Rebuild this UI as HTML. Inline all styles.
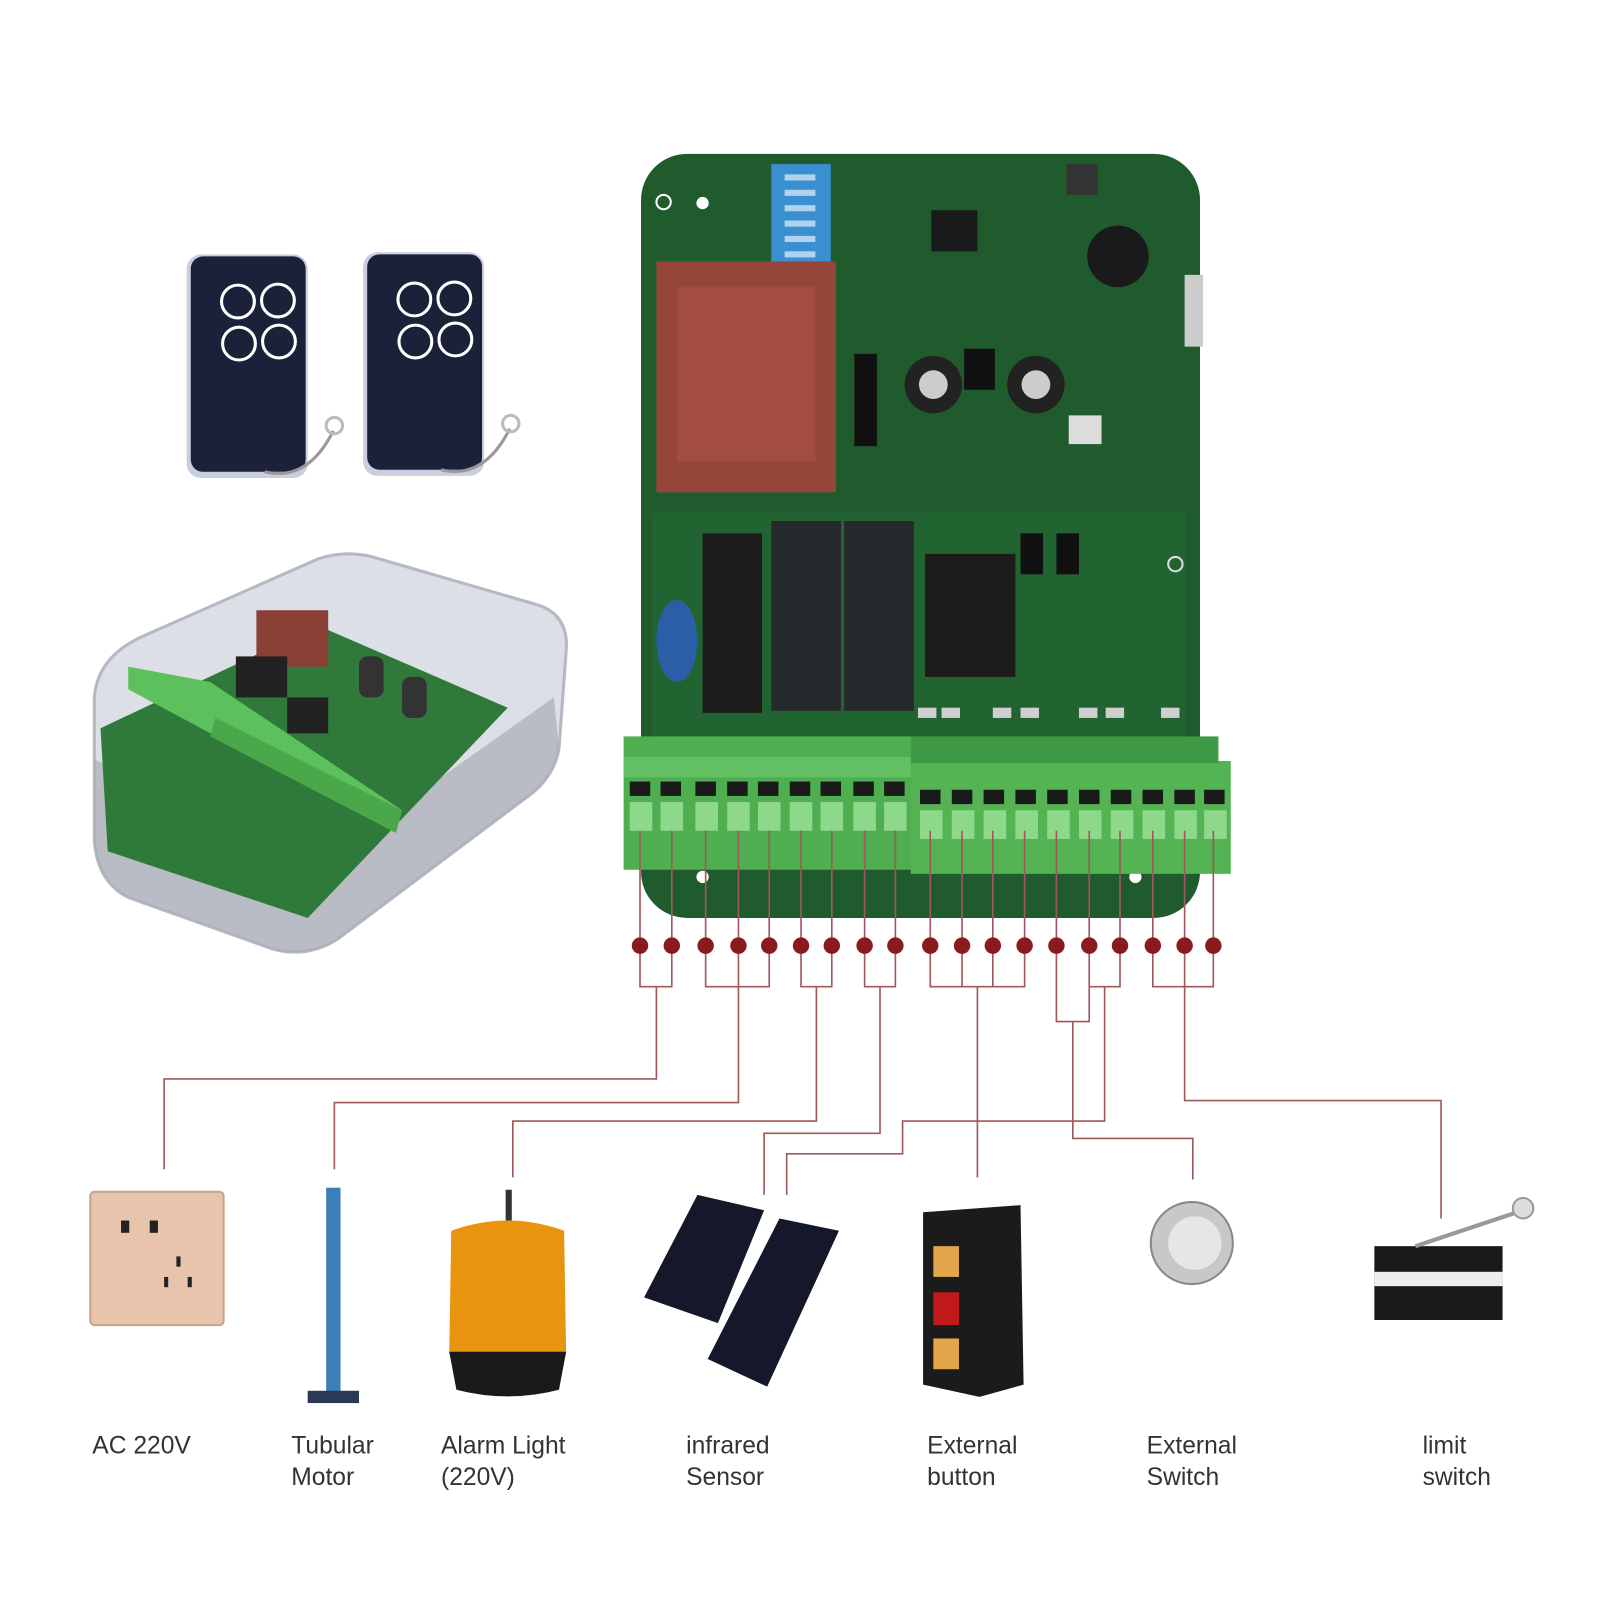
<!DOCTYPE html>
<html><head><meta charset="utf-8"><style>
html,body{margin:0;padding:0;background:#fff;}
svg{display:block}
text{font-family:"Liberation Sans",sans-serif;fill:#333;font-size:24px;}
</style></head><body>
<svg width="1600" height="1600" viewBox="0 0 1560 1560" xmlns="http://www.w3.org/2000/svg">
<rect width="1560" height="1560" fill="#fff"/>
<!-- remotes -->
<g>
<rect x="182" y="248" width="118" height="218" rx="14" fill="#c9cfe0"/>
<rect x="186" y="250" width="112" height="210" rx="12" fill="#1b2138"/>
<circle cx="232" cy="294" r="16" fill="none" stroke="#fff" stroke-width="3"/><circle cx="271" cy="293" r="16" fill="none" stroke="#fff" stroke-width="3"/>
<circle cx="233" cy="335" r="16" fill="none" stroke="#fff" stroke-width="3"/><circle cx="272" cy="333" r="16" fill="none" stroke="#fff" stroke-width="3"/>
<path d="M258 460 Q300 470 325 420" stroke="#999" stroke-width="3" fill="none"/><circle cx="326" cy="415" r="8" fill="none" stroke="#bbb" stroke-width="3"/>
<rect x="354" y="246" width="118" height="218" rx="14" fill="#c9cfe0"/>
<rect x="358" y="248" width="112" height="210" rx="12" fill="#1b2138"/>
<circle cx="404" cy="292" r="16" fill="none" stroke="#fff" stroke-width="3"/><circle cx="443" cy="291" r="16" fill="none" stroke="#fff" stroke-width="3"/>
<circle cx="405" cy="333" r="16" fill="none" stroke="#fff" stroke-width="3"/><circle cx="444" cy="331" r="16" fill="none" stroke="#fff" stroke-width="3"/>
<path d="M430 458 Q472 468 497 418" stroke="#999" stroke-width="3" fill="none"/><circle cx="498" cy="413" r="8" fill="none" stroke="#bbb" stroke-width="3"/>
</g>
<!-- enclosure -->
<g>
<path d="M92 680 Q95 640 140 620 L310 545 Q340 535 370 545 L525 590 Q555 600 552 635 L545 730 Q540 760 510 780 L330 915 Q300 935 265 925 L125 875 Q95 860 92 820 Z" fill="#dcdfe5" stroke="#b5b9c3" stroke-width="3"/>
<path d="M92 740 L300 850 L540 680 L545 730 Q540 760 510 780 L330 915 Q300 935 265 925 L125 875 Q95 860 92 820 Z" fill="#a9adb6" opacity=".7"/>
<path d="M98 710 L310 610 L495 690 L300 895 L105 830 Z" fill="#2f7a3a"/>
<rect x="250" y="595" width="70" height="55" fill="#8a4034"/>
<path d="M125 650 L205 665 L392 790 L386 812 L125 672 Z" fill="#5cc05c"/>
<path d="M210 700 L392 790 L386 812 L205 718 Z" fill="#4aa84a"/>
<rect x="350" y="640" width="24" height="40" rx="8" fill="#333"/><rect x="392" y="660" width="24" height="40" rx="8" fill="#333"/>
<rect x="230" y="640" width="50" height="40" fill="#222"/><rect x="280" y="680" width="40" height="35" fill="#222"/>
</g>
<!-- PCB -->
<rect x="625" y="150" width="545" height="745" rx="45" fill="#1f5b2d"/>
<rect x="636" y="500" width="520" height="220" fill="#246a33" opacity=".6"/>
<rect x="752" y="160" width="58" height="98" fill="#3a8fd0"/>
<g fill="#fff" opacity=".6"><rect x="765" y="170" width="30" height="6"/><rect x="765" y="185" width="30" height="6"/><rect x="765" y="200" width="30" height="6"/><rect x="765" y="215" width="30" height="6"/><rect x="765" y="230" width="30" height="6"/><rect x="765" y="245" width="30" height="6"/></g>
<rect x="640" y="255" width="175" height="225" fill="#96453a"/>
<rect x="660" y="280" width="135" height="170" fill="#a24d40"/>
<rect x="908" y="205" width="45" height="40" fill="#1a1a1a"/>
<rect x="1040" y="160" width="30" height="30" fill="#333"/>
<circle cx="1090" cy="250" r="30" fill="#1a1a1a"/>
<circle cx="910" cy="375" r="28" fill="#222"/><circle cx="910" cy="375" r="14" fill="#ccc"/>
<circle cx="1010" cy="375" r="28" fill="#222"/><circle cx="1010" cy="375" r="14" fill="#ccc"/>
<rect x="833" y="345" width="22" height="90" fill="#111"/>
<rect x="940" y="340" width="30" height="40" fill="#111"/>
<rect x="1042" y="405" width="32" height="28" fill="#ddd"/>
<rect x="1155" y="268" width="18" height="70" fill="#ccc"/>
<rect x="685" y="520" width="58" height="175" fill="#1d1d1d"/>
<rect x="752" y="508" width="68" height="185" fill="#262a2c"/>
<rect x="823" y="508" width="68" height="185" fill="#262a2c"/>
<rect x="902" y="540" width="88" height="120" fill="#1c1c1c"/>
<rect x="995" y="520" width="22" height="40" fill="#111"/><rect x="1030" y="520" width="22" height="40" fill="#111"/>
<ellipse cx="660" cy="625" rx="20" ry="40" fill="#2a5fa8"/>
<g fill="#fff"><circle cx="647" cy="197" r="7" fill="none" stroke="#fff" stroke-width="2"/><circle cx="685" cy="198" r="6"/><circle cx="1146" cy="550" r="7" fill="none" stroke="#ddd" stroke-width="2"/><circle cx="1107" cy="855" r="6"/><circle cx="685" cy="855" r="6"/></g>
<g fill="#cfcfcf"><rect x="895" y="690" width="18" height="10"/><rect x="918" y="690" width="18" height="10"/><rect x="968" y="690" width="18" height="10"/><rect x="995" y="690" width="18" height="10"/><rect x="1052" y="690" width="18" height="10"/><rect x="1078" y="690" width="18" height="10"/><rect x="1132" y="690" width="18" height="10"/></g>
<!-- terminal blocks -->
<rect x="608" y="718" width="282" height="130" fill="#4fae4f"/>
<rect x="608" y="738" width="282" height="20" fill="#62c062"/>
<rect x="888" y="742" width="312" height="110" fill="#54b454"/>
<rect x="888" y="718" width="300" height="26" fill="#3f9a45"/>
<g fill="#1a1a1a">
<rect x="614" y="762" width="20" height="14"/><rect x="644" y="762" width="20" height="14"/><rect x="678" y="762" width="20" height="14"/><rect x="709" y="762" width="20" height="14"/><rect x="739" y="762" width="20" height="14"/><rect x="770" y="762" width="20" height="14"/><rect x="800" y="762" width="20" height="14"/><rect x="832" y="762" width="20" height="14"/><rect x="862" y="762" width="20" height="14"/>
<rect x="897" y="770" width="20" height="14"/><rect x="928" y="770" width="20" height="14"/><rect x="959" y="770" width="20" height="14"/><rect x="990" y="770" width="20" height="14"/><rect x="1021" y="770" width="20" height="14"/><rect x="1052" y="770" width="20" height="14"/><rect x="1083" y="770" width="20" height="14"/><rect x="1114" y="770" width="20" height="14"/><rect x="1145" y="770" width="20" height="14"/><rect x="1174" y="770" width="20" height="14"/>
</g>
<g fill="#8ed88a">
<rect x="614" y="782" width="22" height="28"/><rect x="644" y="782" width="22" height="28"/><rect x="678" y="782" width="22" height="28"/><rect x="709" y="782" width="22" height="28"/><rect x="739" y="782" width="22" height="28"/><rect x="770" y="782" width="22" height="28"/><rect x="800" y="782" width="22" height="28"/><rect x="832" y="782" width="22" height="28"/><rect x="862" y="782" width="22" height="28"/>
<rect x="897" y="790" width="22" height="28"/><rect x="928" y="790" width="22" height="28"/><rect x="959" y="790" width="22" height="28"/><rect x="990" y="790" width="22" height="28"/><rect x="1021" y="790" width="22" height="28"/><rect x="1052" y="790" width="22" height="28"/><rect x="1083" y="790" width="22" height="28"/><rect x="1114" y="790" width="22" height="28"/><rect x="1145" y="790" width="22" height="28"/><rect x="1174" y="790" width="22" height="28"/>
</g>
<!-- wires -->
<g stroke="#a0585a" stroke-width="1.6" fill="none">
<path d="M624 810V962H655V810M640 962V1052H160V1140"/>
<path d="M688 810V962H750V810M720 810V1075H326V1140"/>
<path d="M781 810V962H811V810M796 962V1093H500V1148"/>
<path d="M843 810V962H873V810M858 962V1105H745V1165"/>
<path d="M907 810V962H999V810M938 810V962M968 810V962M953 962V1148"/>
<path d="M1030 810V996H1062V810M1046 996V1110H1163V1150"/>
<path d="M1062 962H1092V810M1077 962V1093H880V1125H767V1165"/>
<path d="M1124 810V962H1183V810M1155 810V1073H1405V1188"/>
</g>
<g fill="#8b1a1f">
<circle cx="624" cy="922" r="8"/><circle cx="655" cy="922" r="8"/><circle cx="688" cy="922" r="8"/><circle cx="720" cy="922" r="8"/><circle cx="750" cy="922" r="8"/><circle cx="781" cy="922" r="8"/><circle cx="811" cy="922" r="8"/><circle cx="843" cy="922" r="8"/><circle cx="873" cy="922" r="8"/><circle cx="907" cy="922" r="8"/><circle cx="938" cy="922" r="8"/><circle cx="968" cy="922" r="8"/><circle cx="999" cy="922" r="8"/><circle cx="1030" cy="922" r="8"/><circle cx="1062" cy="922" r="8"/><circle cx="1092" cy="922" r="8"/><circle cx="1124" cy="922" r="8"/><circle cx="1155" cy="922" r="8"/><circle cx="1183" cy="922" r="8"/>
</g>
<!-- devices -->
<rect x="88" y="1162" width="130" height="130" rx="4" fill="#e8c4ac" stroke="#c9a28a" stroke-width="2"/>
<rect x="118" y="1190" width="8" height="12" fill="#222"/><rect x="146" y="1190" width="8" height="12" fill="#222"/>
<rect x="172" y="1225" width="4" height="10" fill="#222"/><rect x="160" y="1245" width="4" height="10" fill="#222"/><rect x="183" y="1245" width="4" height="10" fill="#222"/>
<rect x="318" y="1158" width="14" height="200" fill="#3c7fb8"/><rect x="300" y="1356" width="50" height="12" fill="#2a3a55"/>
<rect x="493" y="1160" width="6" height="30" fill="#333"/>
<path d="M440 1200 Q495 1180 550 1200 L552 1320 L438 1320 Z" fill="#e8940e"/>
<path d="M438 1318 L552 1318 L545 1355 Q495 1368 445 1355 Z" fill="#1a1a1a"/>
<path d="M628 1265 L680 1165 L745 1180 L700 1290 Z" fill="#15182a"/>
<path d="M690 1325 L760 1188 L818 1200 L748 1352 Z" fill="#15182a"/>
<path d="M900 1182 L995 1175 L998 1350 L955 1362 L900 1350 Z" fill="#1b1b1b"/>
<rect x="910" y="1215" width="25" height="30" fill="#e3a64a"/><rect x="910" y="1260" width="25" height="32" fill="#c21a1a"/><rect x="910" y="1305" width="25" height="30" fill="#e3a64a"/>
<circle cx="1162" cy="1212" r="40" fill="#c8c8c8" stroke="#888" stroke-width="2"/><circle cx="1165" cy="1212" r="26" fill="#e6e6e6"/>
<rect x="1340" y="1215" width="125" height="72" fill="#1a1a1a"/><rect x="1340" y="1240" width="125" height="14" fill="#eee"/>
<path d="M1380 1215 L1485 1180" stroke="#999" stroke-width="4"/><circle cx="1485" cy="1178" r="10" fill="#ddd" stroke="#999" stroke-width="2"/>
<!-- labels -->
<text x="90" y="1417">AC 220V</text>
<text x="284" y="1417">Tubular</text><text x="284" y="1448">Motor</text>
<text x="430" y="1417">Alarm Light</text><text x="430" y="1448">(220V)</text>
<text x="669" y="1417">infrared</text><text x="669" y="1448">Sensor</text>
<text x="904" y="1417">External</text><text x="904" y="1448">button</text>
<text x="1118" y="1417">External</text><text x="1118" y="1448">Switch</text>
<text x="1387" y="1417">limit</text><text x="1387" y="1448">switch</text>
</svg>
</body></html>
